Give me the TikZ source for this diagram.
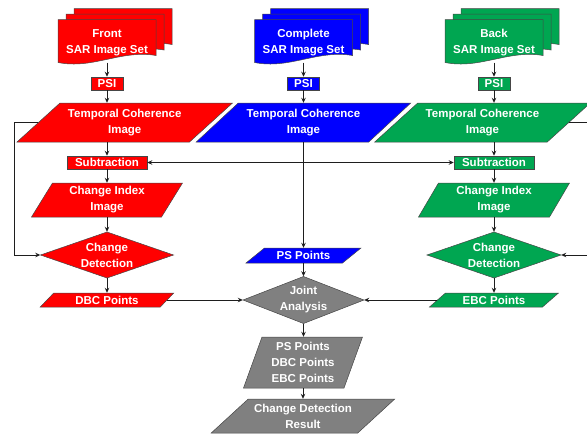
\documentclass[tikz,border=0pt]{standalone}
\usepackage{fontspec}
\setmainfont{Liberation Sans}
\usetikzlibrary{arrows.meta,calc}
\definecolor{cred}{RGB}{255,0,0}
\definecolor{cblue}{RGB}{0,0,255}
\definecolor{cgreen}{RGB}{0,166,81}
\definecolor{cgray}{RGB}{128,128,128}
\definecolor{edgec}{RGB}{70,70,70}
\definecolor{linec}{RGB}{30,30,30}
\tikzset{
  txt/.style={text=white, font=\bfseries\fontsize{11.5}{16}\selectfont, align=center},
  shp/.style={draw=edgec, line width=0.5pt},
  arr/.style={draw=linec, line width=0.9pt, -{Stealth[length=5pt,width=4.5pt]}},
  boxn/.style={txt, shp, inner sep=0pt, minimum height=13pt},
}
% parallelogram: name, cx, cy, w, h, slant, colour, text
\newcommand\myPara[8]{%
  \filldraw[shp, fill=#7] ({#2-#4/2+#6/2},{#3-#5/2}) -- ({#2+#4/2+#6/2},{#3-#5/2})
     -- ({#2+#4/2-#6/2},{#3+#5/2}) -- ({#2-#4/2-#6/2},{#3+#5/2}) -- cycle;
  \node[txt, inner sep=0pt, minimum width=#4pt, minimum height=#5pt] (#1) at (#2,#3) {#8};}
% diamond: name, cx, cy, W, H, colour, text
\newcommand\myDiam[7]{%
  \filldraw[shp, fill=#6] ({#2-#4/2},#3) -- (#2,{#3-#5/2}) -- ({#2+#4/2},#3)
     -- (#2,{#3+#5/2}) -- cycle;
  \node[txt, inner sep=0pt, minimum width=#4pt, minimum height=#5pt] (#1) at (#2,#3) {#7};}
% document stack: name, cx, top, colour, text
\newcommand\myDoc[5]{%
  \foreach \k in {2,1,0}{%
    \filldraw[shp, fill=#4] ({#2-49+8*\k},{#3-5.5*\k}) -- ({#2+49+8*\k},{#3-5.5*\k})
      -- ({#2+49+8*\k},{#3-5.5*\k+36})
      .. controls ({#2+14+8*\k},{#3-5.5*\k+30}) and ({#2-14+8*\k},{#3-5.5*\k+50}) ..
      ({#2-49+8*\k},{#3-5.5*\k+43}) -- cycle;}
  \node[txt, inner sep=0pt, minimum width=98pt, minimum height=43pt] (#1) at (#2,{#3+21.5}) {};
  \node[txt, inner sep=0pt] at (#2,{#3+23}) {#5};}

\begin{document}
\begin{tikzpicture}[x=1pt,y=-1pt]
\useasboundingbox (0,0) rectangle (587,434);
\clip (0,0) rectangle (587,434);

% documents
\myDoc{rDoc}{107}{19.5}{cred}{Front\\SAR Image Set}
\myDoc{bDoc}{303.5}{19.5}{cblue}{Complete\\SAR Image Set}
\myDoc{gDoc}{494}{19.5}{cgreen}{Back\\SAR Image Set}

% PSI
\node[boxn, fill=cred, minimum width=32pt] (rPSI) at (107,83.5) {PSI};
\node[boxn, fill=cblue, minimum width=32pt] (bPSI) at (303.5,83.5) {PSI};
\node[boxn, fill=cgreen, minimum width=32pt] (gPSI) at (494,83.5) {PSI};

% temporal coherence
\myPara{rTCI}{124.75}{122.5}{172.5}{39}{43}{cred}{Temporal Coherence\\Image}
\myPara{bTCI}{303.5}{122.5}{172.5}{39}{42}{cblue}{Temporal Coherence\\Image}
\myPara{gTCI}{482.5}{122.5}{172.5}{39}{43}{cgreen}{Temporal Coherence\\Image}

% subtraction
\node[boxn, fill=cred, minimum width=80pt] (rSub) at (107,162.5) {Subtraction};
\node[boxn, fill=cgreen, minimum width=80pt] (gSub) at (494,162.5) {Subtraction};

% change index
\myPara{rCI}{107}{200}{130}{34}{21}{cred}{Change Index\\Image}
\myPara{gCI}{494}{200}{131}{34}{20}{cgreen}{Change Index\\Image}

% change detection
\myDiam{rDia}{107}{255}{133}{46}{cred}{Change\\Detection}
\myDiam{gDia}{494}{255}{134}{46}{cgreen}{Change\\Detection}

% points
\myPara{rDBC}{107}{300}{120}{14}{13.5}{cred}{DBC Points}
\myPara{gEBC}{494}{300}{113}{14}{16}{cgreen}{EBC Points}
\myPara{bPS}{303.5}{255.5}{96.5}{15}{18.5}{cblue}{PS Points}

% joint
\myDiam{jDia}{303.5}{300}{121}{47}{cgray}{Joint\\Analysis}
\myPara{mix}{303}{362.5}{100.5}{51}{18.5}{cgray}{PS Points\\DBC Points\\EBC Points}
\myPara{res}{303}{416}{146.5}{34}{37}{cgray}{Change Detection\\Result}

% connectors
\coordinate (lft) at (14,0);
\coordinate (rgt) at (597,0);
\draw[arr] (rDoc.south) -- (rPSI.north);
\draw[arr] (bDoc.south) -- (bPSI.north);
\draw[arr] (gDoc.south) -- (gPSI.north);
\draw[arr] (rPSI.south) -- (rPSI.south |- rTCI.north);
\draw[arr] (bPSI.south) -- (bTCI.north);
\draw[arr] (gPSI.south) -- (gPSI.south |- gTCI.north);
\draw[arr] (rSub.north |- rTCI.south) -- (rSub.north);
\draw[arr] (gSub.north |- gTCI.south) -- (gSub.north);
\draw[arr] (bTCI.south) -- (bTCI.south |- bPS.north);
\coordinate (jn) at (bTCI.south |- rSub.east);
\draw[arr] (jn) -- (rSub.east);
\draw[arr] (jn) -- (gSub.west);
\draw[arr] (rSub.south) -- (rCI.north);
\draw[arr] (gSub.south) -- (gCI.north);
\draw[arr] (rCI.south) -- (rDia.north);
\draw[arr] (gCI.south) -- (gDia.north);
\draw[arr] (rDia.south) -- (rDBC.north);
\draw[arr] (gDia.south) -- (gEBC.north);
\draw[arr] (rTCI.west) -- (rTCI.west -| lft) |- (rDia.west);
\draw[arr] (gTCI.east) -- (gTCI.east -| rgt) |- (gDia.east);
\draw[arr] (rDBC.east) -- (jDia.west);
\draw[arr] (gEBC.west) -- (jDia.east);
\draw[arr] (bPS.south) -- (jDia.north);
\draw[arr] (jDia.south) -- (jDia.south |- mix.north);
\draw[arr] (mix.south) -- (res.north);
\end{tikzpicture}
\end{document}
